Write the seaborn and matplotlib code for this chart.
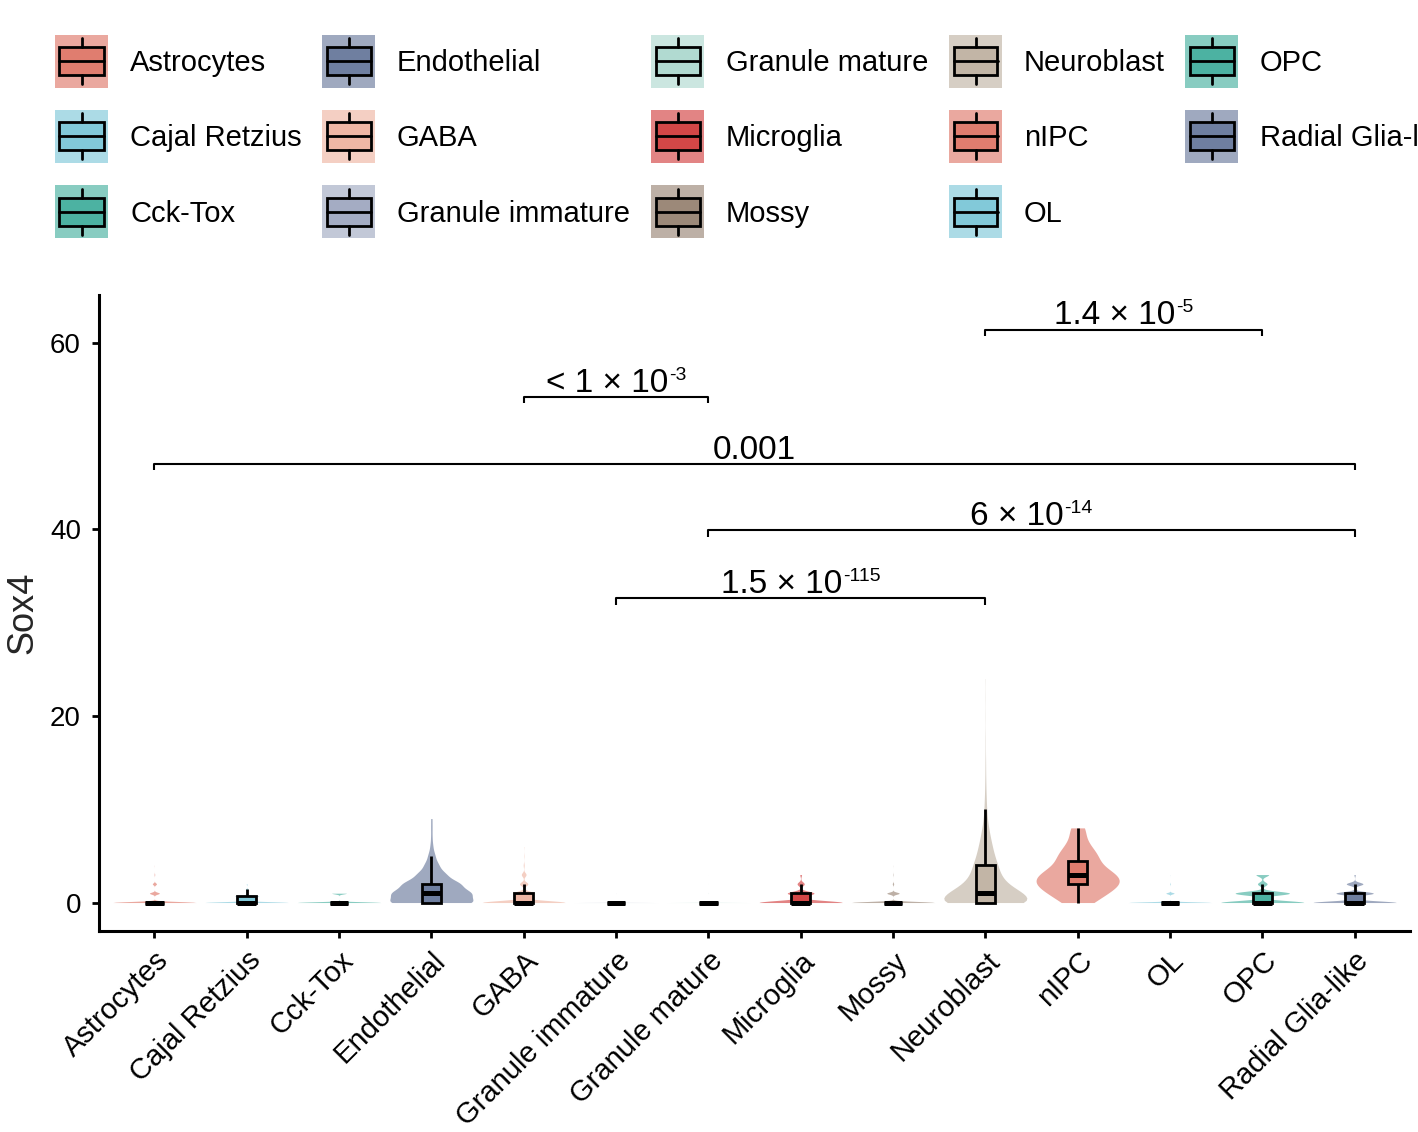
import numpy as np
import pandas as pd
import matplotlib
matplotlib.use("Agg")
import matplotlib.pyplot as plt
import matplotlib.colors as mcolors
from matplotlib.patches import Rectangle
from matplotlib.lines import Line2D
from matplotlib.transforms import IdentityTransform
import seaborn as sns

# ---------------- data ----------------
categories = ["Astrocytes", "Cajal Retzius", "Cck-Tox", "Endothelial", "GABA",
              "Granule immature", "Granule mature", "Microglia", "Mossy",
              "Neuroblast", "nIPC", "OL", "OPC", "Radial Glia-like"]

# Sox4 expression levels and number of cells observed at each level
astro_lvl = [0, 1, 2, 3, 4];            astro_n = [2000, 240, 100, 15, 4]
cajal_lvl = [0, 0.7, 1.4, 2.0];         cajal_n = [680, 200, 22, 8]
cck_lvl = [0, 1];                       cck_n = [850, 150]
endo_lvl = [0, 1, 2, 3, 4, 5, 6, 7, 8, 9]
endo_n = [60, 55, 40, 20, 10, 5, 2, 1, 1, 1]
gaba_lvl = [0, 1, 2, 3, 4, 5, 6];       gaba_n = [700, 180, 70, 40, 8, 3, 2]
gimm_lvl = [0, 1];                      gimm_n = [3000, 15]
gmat_lvl = [0, 1, 2, 3];                gmat_n = [5000, 30, 3, 1]
micro_lvl = [0, 1, 2, 3];               micro_n = [140, 45, 12, 3]
mossy_lvl = [0, 1, 2, 3, 4];            mossy_n = [600, 90, 10, 3, 1]
nb_lvl = [0, 1, 2, 3, 4, 5, 6, 7, 8, 9, 10, 11, 12, 13, 14, 15, 16, 17, 18, 20, 22, 24]
nb_n = [300, 230, 130, 90, 75, 55, 42, 30, 20, 12, 8, 6, 4, 3, 2, 2, 1, 1, 1, 1, 1, 1]
nipc_lvl = [0, 1, 2, 3, 4, 5, 6, 7, 8]; nipc_n = [5, 9, 14, 13, 6, 7, 4, 2, 3]
ol_lvl = [0, 1, 2, 3];                  ol_n = [1000, 100, 8, 2]
opc_lvl = [0, 1, 2, 3];                 opc_n = [520, 340, 60, 80]
rgl_lvl = [0, 1, 2, 3];                 rgl_n = [600, 270, 120, 10]

levels = [astro_lvl, cajal_lvl, cck_lvl, endo_lvl, gaba_lvl, gimm_lvl, gmat_lvl,
          micro_lvl, mossy_lvl, nb_lvl, nipc_lvl, ol_lvl, opc_lvl, rgl_lvl]
counts = [astro_n, cajal_n, cck_n, endo_n, gaba_n, gimm_n, gmat_n,
          micro_n, mossy_n, nb_n, nipc_n, ol_n, opc_n, rgl_n]

# pairwise comparisons (p-value = mantissa part x 10^exponent)
comp_a = ["GABA", "Astrocytes", "Granule mature", "Granule immature", "Neuroblast"]
comp_b = ["Granule mature", "Radial Glia-like", "Radial Glia-like", "Neuroblast", "OPC"]
comp_y = [54.2, 47.0, 39.9, 32.6, 61.4]
comp_base = ["< 1 × 10", "0.001", "6 × 10", "1.5 × 10", "1.4 × 10"]
comp_exp = ["-3", "", "-14", "-115", "-5"]

npg = ["#E64B35", "#4DBBD5", "#00A087", "#3C5488", "#F39B7F",
       "#8491B4", "#91D1C2", "#DC0000", "#7E6148", "#B09C85"]

# ---------------- build table ----------------
rows_cat, rows_val = [], []
for cat, lv, nn in zip(categories, levels, counts):
    vals = np.repeat(np.asarray(lv, dtype=float), nn)
    rows_val.append(vals)
    rows_cat.extend([cat] * len(vals))
df = pd.DataFrame({"cell": rows_cat, "Sox4": np.concatenate(rows_val)})


def blend(c, a, desat=0.15):
    r, g, b = mcolors.to_rgb(c)
    rgb = np.array([1 - a + a * r, 1 - a + a * g, 1 - a + a * b])
    lum = 0.3 * rgb[0] + 0.59 * rgb[1] + 0.11 * rgb[2]
    rgb = rgb * (1 - desat) + lum * desat
    return tuple(np.clip(rgb, 0, 1))


base = [npg[i % len(npg)] for i in range(len(categories))]
violin_col = {c: blend(b, 0.5) for c, b in zip(categories, base)}
box_col = {c: blend(b, 0.75) for c, b in zip(categories, base)}

# ---------------- style ----------------
sns.set_style("ticks")
plt.rcParams["font.family"] = ["Liberation Sans", "DejaVu Sans"]

W, H = 1418, 1132
fig = plt.figure(figsize=(W / 100, H / 100), dpi=100)
ax = fig.add_axes([99 / W, 1 - 931 / H, (1410 - 99) / W, (931 - 295) / H])

sns.violinplot(data=df, x="cell", y="Sox4", hue="cell", order=categories,
               hue_order=categories, palette=violin_col, density_norm="width",
               cut=0, width=0.9, inner=None, linewidth=0, saturation=1,
               bw_adjust=0.9, legend=False, ax=ax)
sns.boxplot(data=df, x="cell", y="Sox4", hue="cell", order=categories,
            hue_order=categories, palette=box_col, width=0.2, showfliers=False,
            showcaps=False, linewidth=2, linecolor="black", saturation=1,
            medianprops={"linewidth": 3.6}, legend=False, ax=ax)

ax.set_xlim(-0.6, len(categories) - 0.4)
ax.set_ylim(-3.05, 65.1)
ax.set_yticks([0, 20, 40, 60])
ax.set_xlabel("")
ax.set_ylabel("Sox4", fontsize=26, labelpad=7)
sns.despine(ax=ax)
for s in ("left", "bottom"):
    ax.spines[s].set_linewidth(2.2)
    ax.spines[s].set_color("black")
ax.tick_params(axis="both", length=5, width=2.0, color="black",
               labelcolor="black")
ax.tick_params(axis="y", labelsize=20, pad=8)
ax.tick_params(axis="x", labelsize=21, pad=6)
plt.setp(ax.get_xticklabels(), rotation=45, ha="right", va="top",
         rotation_mode="anchor")

# comparisons
renderer = fig.canvas.get_renderer()
ident = IdentityTransform()
for a, b, y, lab, ex in zip(comp_a, comp_b, comp_y, comp_base, comp_exp):
    xa, xb = categories.index(a), categories.index(b)
    tip = 0.7
    ax.plot([xa, xa, xb, xb], [y - tip, y, y, y - tip], color="black",
            lw=1.5, solid_capstyle="butt", clip_on=False)
    px, py = ax.transData.transform(((xa + xb) / 2, y + 0.55))
    t1 = ax.text(0, 0, lab, fontsize=24, color="black", ha="left",
                 va="baseline", transform=ident)
    w1 = t1.get_window_extent(renderer).width
    w2 = 0
    t2 = None
    if ex:
        t2 = ax.text(0, 0, ex, fontsize=14, color="black", ha="left",
                     va="baseline", transform=ident)
        w2 = t2.get_window_extent(renderer).width + 1
    x0 = px - (w1 + w2) / 2
    t1.set_position((x0, py))
    if t2 is not None:
        t2.set_position((x0 + w1 + 1, py + 12))

# ---------------- legend (manual, figure pixels) ----------------
def fx(px):
    return px / W


def fy(py):
    return 1 - py / H


col_key_x = [55, 322, 651, 949, 1185]
row_top = [34.5, 109.5, 185.5]
key = 53
for i, cat in enumerate(categories):
    c, r = divmod(i, 3)
    x0, y0 = col_key_x[c], row_top[r]
    fig.add_artist(Rectangle((fx(x0), fy(y0 + key)), key / W, key / H,
                             transform=fig.transFigure, facecolor=violin_col[cat],
                             edgecolor="none"))
    fig.add_artist(Rectangle((fx(x0 + 4.5), fy(y0 + 40)), 44 / W, 28 / H,
                             transform=fig.transFigure, facecolor=box_col[cat],
                             edgecolor="black", linewidth=2))
    xm = x0 + key / 2
    fig.add_artist(Line2D([fx(x0 + 4.5), fx(x0 + 48.5)],
                          [fy(y0 + 26.5), fy(y0 + 26.5)],
                          transform=fig.transFigure, color="black", lw=2))
    fig.add_artist(Line2D([fx(xm), fx(xm)], [fy(y0 + 3.5), fy(y0 + 12)],
                          transform=fig.transFigure, color="black", lw=2))
    fig.add_artist(Line2D([fx(xm), fx(xm)], [fy(y0 + 40), fy(y0 + 49)],
                          transform=fig.transFigure, color="black", lw=2))
    fig.text(fx(x0 + 75), fy(y0 + key / 2 + 2), cat, ha="left", va="center",
             fontsize=21, color="black")

fig.savefig("out.png", dpi=100, facecolor="white")
